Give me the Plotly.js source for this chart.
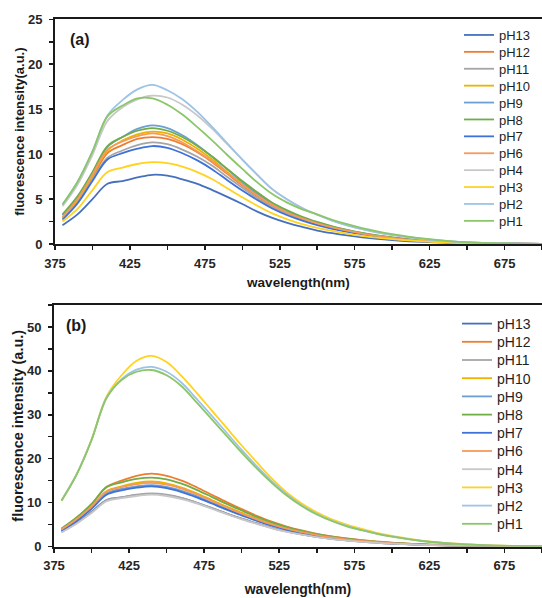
<!DOCTYPE html>
<html><head><meta charset="utf-8">
<script src="https://cdn.plot.ly/plotly-3.0.1.min.js"></script>
<style>html,body{margin:0;padding:0;background:#fff}#chart{width:542px;height:598px}</style>
</head><body><div id="chart"></div>
<script>
// wavelength grid (nm)
const wl = [380,390,400,410,420,430,440,450,460,470,480,490,500,510,520,530,540,550,560,570,580,590,600,620,640,660,680,700];
const names = ['pH13','pH12','pH11','pH10','pH9','pH8','pH7','pH6','pH4','pH3','pH2','pH1'];
const colors = ['#4670BE','#ED7D31','#A5A5A5','#EDB100','#6C9FD3','#70AD47','#3F72D8','#F59A5A','#C8C8C8','#FFD320','#9DC3E6','#8BC668'];

// panel (a)
const a13 = [2.1,3.3,5.0,6.7,7.0,7.4,7.7,7.6,7.2,6.7,6.0,5.25,4.45,3.6,2.9,2.35,1.9,1.5,1.2,0.95,0.74,0.57,0.44,0.23,0.11,0.05,0.02,0.01];
const a12 = [2.9,4.8,7.4,10.1,11.0,11.7,11.9,11.7,11.1,10.2,9.1,7.8,6.5,5.3,4.25,3.45,2.8,2.27,1.82,1.46,1.15,0.9,0.69,0.37,0.18,0.08,0.03,0.01];
const a11 = [2.9,4.7,7.2,9.6,10.4,11.0,11.3,11.1,10.5,9.7,8.7,7.45,6.25,5.1,4.1,3.35,2.72,2.2,1.77,1.42,1.12,0.88,0.67,0.36,0.17,0.07,0.03,0.01];
const a10 = [3.0,4.9,7.6,10.4,11.5,12.2,12.5,12.3,11.6,10.6,9.4,8.0,6.7,5.5,4.4,3.55,2.88,2.33,1.87,1.49,1.17,0.91,0.7,0.38,0.18,0.08,0.03,0.01];
const a9  = [3.2,5.2,7.9,10.8,11.9,12.8,13.2,12.9,12.1,11.0,9.7,8.3,6.9,5.6,4.5,3.65,2.95,2.4,1.92,1.53,1.2,0.93,0.72,0.39,0.19,0.08,0.03,0.01];
const a8  = [3.3,5.3,8.0,10.9,11.9,12.6,12.9,12.6,11.9,10.9,9.7,8.35,7.0,5.75,4.6,3.75,3.02,2.45,1.97,1.57,1.23,0.96,0.74,0.4,0.19,0.08,0.03,0.01];
const a7  = [2.7,4.5,7.0,9.4,10.1,10.6,10.9,10.7,10.1,9.3,8.3,7.1,5.95,4.9,3.95,3.2,2.6,2.1,1.69,1.35,1.07,0.83,0.64,0.35,0.17,0.07,0.03,0.01];
const a6  = [3.0,5.0,7.7,10.5,11.4,12.0,12.3,12.0,11.3,10.3,9.2,7.9,6.6,5.4,4.35,3.5,2.85,2.3,1.85,1.48,1.16,0.9,0.69,0.37,0.18,0.08,0.03,0.01];
const a4  = [4.2,6.6,9.9,13.7,15.2,16.1,16.5,16.3,15.5,14.3,12.8,11.1,9.4,7.7,6.1,4.95,4.0,3.25,2.6,2.08,1.65,1.3,1.0,0.57,0.28,0.12,0.05,0.02];
const a3  = [2.5,3.9,6.0,8.0,8.5,8.9,9.1,9.0,8.6,8.0,7.2,6.2,5.2,4.25,3.4,2.75,2.22,1.8,1.45,1.15,0.9,0.7,0.54,0.29,0.14,0.06,0.02,0.01];
const a2  = [4.4,6.9,10.3,14.3,16.0,17.2,17.7,17.1,16.1,14.7,13.0,11.2,9.4,7.7,6.1,4.95,4.0,3.25,2.6,2.08,1.65,1.3,1.02,0.58,0.28,0.12,0.05,0.02];
const a1  = [4.4,6.9,10.3,14.2,15.4,16.2,16.2,15.5,14.4,13.0,11.5,9.9,8.35,6.85,5.55,4.6,3.85,3.3,2.7,2.2,1.76,1.4,1.1,0.62,0.3,0.13,0.05,0.02];

// panel (b)
const b13 = [3.4,5.4,7.9,10.6,11.2,11.7,12.0,11.7,11.0,9.95,8.75,7.5,6.35,5.25,4.25,3.42,2.75,2.2,1.75,1.39,1.1,0.86,0.66,0.38,0.19,0.08,0.04,0.01];
const b12 = [4.0,6.5,9.6,13.6,15.0,16.1,16.6,16.1,15.0,13.5,11.8,10.1,8.5,7.0,5.65,4.55,3.65,2.9,2.3,1.82,1.44,1.13,0.86,0.5,0.25,0.11,0.05,0.02];
const b11 = [3.3,5.3,7.8,10.5,11.2,11.8,12.1,11.8,11.1,10.0,8.8,7.5,6.35,5.25,4.25,3.42,2.75,2.2,1.75,1.39,1.1,0.86,0.66,0.38,0.19,0.08,0.04,0.01];
const b10 = [3.8,6.2,9.1,12.6,13.7,14.5,14.8,14.4,13.4,12.1,10.6,9.1,7.7,6.35,5.15,4.15,3.35,2.67,2.12,1.68,1.33,1.04,0.8,0.45,0.23,0.1,0.04,0.02];
const b9  = [3.7,6.0,8.8,12.1,13.1,13.7,14.0,13.6,12.7,11.5,10.0,8.6,7.25,6.0,4.85,3.9,3.15,2.5,2.0,1.58,1.25,0.98,0.75,0.43,0.21,0.1,0.04,0.02];
const b8  = [4.1,6.6,9.7,13.5,14.6,15.4,15.7,15.3,14.3,12.9,11.3,9.7,8.2,6.75,5.5,4.4,3.55,2.83,2.25,1.78,1.41,1.1,0.84,0.48,0.24,0.11,0.05,0.02];
const b7  = [3.6,5.8,8.6,11.8,12.8,13.4,13.7,13.3,12.4,11.2,9.8,8.4,7.1,5.85,4.75,3.8,3.08,2.45,1.95,1.55,1.22,0.96,0.73,0.42,0.21,0.09,0.04,0.02];
const b6  = [3.9,6.2,9.1,12.5,13.5,14.2,14.5,14.1,13.2,11.9,10.4,8.9,7.5,6.2,5.05,4.05,3.27,2.6,2.07,1.64,1.3,1.02,0.78,0.44,0.22,0.1,0.04,0.02];
const b4  = [3.2,5.2,7.6,10.3,11.0,11.5,11.8,11.5,10.8,9.8,8.6,7.35,6.2,5.15,4.15,3.35,2.7,2.15,1.7,1.36,1.07,0.84,0.64,0.37,0.18,0.08,0.04,0.01];
const b3  = [10.5,16.4,24.4,34.2,39.0,42.3,43.4,42.0,38.8,35.0,31.0,27.0,23.0,19.2,15.5,12.3,9.8,7.8,6.2,5.0,4.0,3.1,2.4,1.35,0.7,0.35,0.15,0.06];
const b2  = [10.5,16.4,24.3,33.9,38.1,40.3,40.9,39.8,37.3,33.6,29.8,25.9,22.0,18.3,14.9,11.9,9.4,7.45,5.9,4.7,3.75,2.95,2.3,1.28,0.66,0.33,0.14,0.05];
const b1  = [10.4,16.3,24.2,33.8,37.9,39.8,40.2,39.0,36.5,32.8,29.0,25.2,21.4,17.8,14.5,11.6,9.2,7.3,5.8,4.6,3.7,2.9,2.25,1.25,0.65,0.32,0.14,0.05];

const seriesA = [a13,a12,a11,a10,a9,a8,a7,a6,a4,a3,a2,a1];
const seriesB = [b13,b12,b11,b10,b9,b8,b7,b6,b4,b3,b2,b1];

const FONT = 'Arial, "Liberation Sans", sans-serif';
const traces = [];
names.forEach((n,i)=>traces.push({x:wl,y:seriesA[i],name:n,type:'scatter',mode:'lines',
  line:{color:colors[i],width:1.8,shape:'spline'},xaxis:'x',yaxis:'y',legend:'legend',hoverinfo:'skip'}));
names.forEach((n,i)=>traces.push({x:wl,y:seriesB[i],name:n,type:'scatter',mode:'lines',
  line:{color:colors[i],width:1.8,shape:'spline'},xaxis:'x2',yaxis:'y2',legend:'legend2',hoverinfo:'skip'}));

function xax(dom, anchor, tsize, standoff){
  return {domain:dom, anchor:anchor, range:[375,700], tickmode:'linear', tick0:375, dtick:50,
    ticks:'outside', ticklen:4, tickwidth:1.5, tickcolor:'#1a1a1a',
    minor:{tickmode:'linear', tick0:375, dtick:25, ticks:'outside', ticklen:4, tickwidth:1.5, tickcolor:'#1a1a1a', showgrid:false},
    showline:true, linecolor:'#1a1a1a', linewidth:2, mirror:true, showgrid:false, zeroline:false,
    ticklabelstandoff:2,
    tickfont:{family:FONT,size:13,color:'#262626',weight:'bold'},
    title:{text:'wavelength(nm)', font:{family:FONT,size:tsize,color:'#1a1a1a',weight:'bold'}, standoff:standoff}};
}
function yax(dom, anchor, max, dt, mdt, title, tsize){
  return {domain:dom, anchor:anchor, range:[0,max], tickmode:'linear', tick0:0, dtick:dt,
    ticks:'outside', ticklen:4, tickwidth:1.5, tickcolor:'#1a1a1a',
    minor:{tickmode:'linear', tick0:0, dtick:mdt, ticks:'outside', ticklen:4, tickwidth:1.5, tickcolor:'#1a1a1a', showgrid:false},
    showline:true, linecolor:'#1a1a1a', linewidth:2, mirror:false, showgrid:false, zeroline:false,
    ticklabelstandoff:4,
    tickfont:{family:FONT,size:13,color:'#262626',weight:'bold'},
    title:{text:title, font:{family:FONT,size:tsize,color:'#1a1a1a',weight:'bold'}, standoff:0}};
}

const layout = {
  width:542, height:598, margin:{l:0,r:0,t:0,b:0}, paper_bgcolor:'#fff', plot_bgcolor:'#fff',
  showlegend:true,
  xaxis: xax([55/542,1],'y',13.5,8),
  yaxis: yax([1-244/598, 1-19.3/598],'x',25,5,2.5,'fluorescence intensity(a.u.)',13),
  xaxis2: xax([54/542,1],'y2',14,12),
  yaxis2: yax([1-546.5/598, 1-305/598],'x2',55,10,5,'fluorescence intensity (a.u.)',14.5),
  legend:{x:459/542, xanchor:'left', y:1-20/598, yanchor:'top', bgcolor:'rgba(0,0,0,0)', borderwidth:0,
    font:{family:FONT,size:13,color:'#1f1f1f'}, traceorder:'normal'},
  legend2:{x:457/542, xanchor:'left', y:1-308/598, yanchor:'top', bgcolor:'rgba(0,0,0,0)', borderwidth:0,
    font:{family:FONT,size:14,color:'#1f1f1f'}, traceorder:'normal'},
  annotations:[
    {text:'(a)', xref:'paper', yref:'paper', x:80/542, y:1-40/598, xanchor:'center', yanchor:'middle', showarrow:false,
     font:{family:FONT,size:16,color:'#1a1a1a',weight:'bold'}},
    {text:'(b)', xref:'paper', yref:'paper', x:76/542, y:1-325/598, xanchor:'center', yanchor:'middle', showarrow:false,
     font:{family:FONT,size:16,color:'#1a1a1a',weight:'bold'}}
  ]
};

Plotly.newPlot('chart', traces, layout, {staticPlot:true, displayModeBar:false}).then(gd=>{
  // tighten legend row spacing to match the reference
  const groups = Array.from(gd.querySelectorAll('.infolayer > g')).filter(g=>/^legend\d*$/.test(g.getAttribute('class')||''));
  groups.forEach((lg,k)=>{
    const sp = k===0 ? 16.9 : 18.2;
    let y0 = null;
    lg.querySelectorAll('g.traces').forEach((it,i)=>{
      const m = /translate\(\s*([-\d.e]+)[ ,]+([-\d.e]+)\s*\)/.exec(it.getAttribute('transform')||'');
      if(!m) return;
      if(y0===null) y0 = parseFloat(m[2]);
      it.setAttribute('transform','translate('+m[1]+','+(y0+i*sp)+')');
    });
  });
});
</script></body></html>
